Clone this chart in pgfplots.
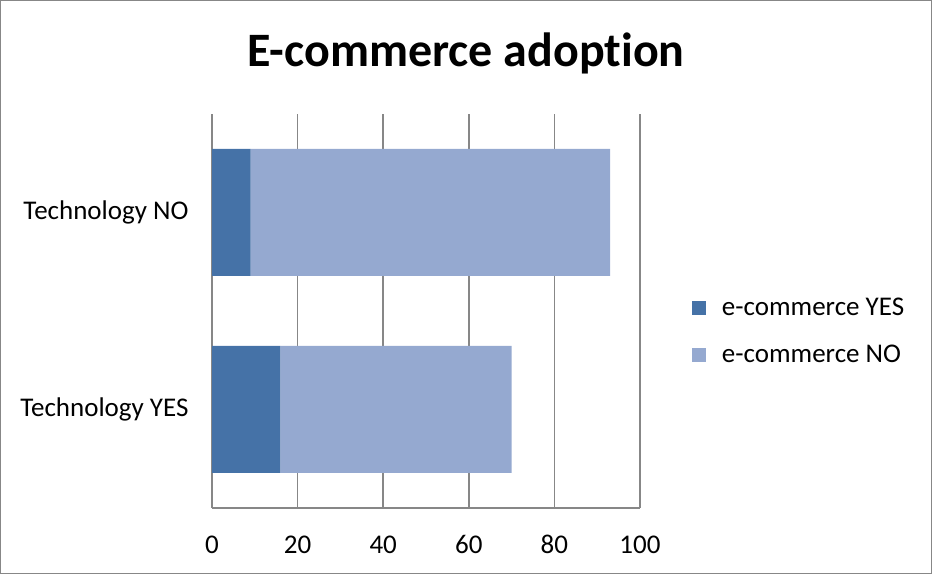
\documentclass[border=0pt]{standalone}
\usepackage{pgfplots}
\pgfplotsset{compat=1.18}
\usepackage{fontspec}
\setmainfont{Carlito}[Ligatures=NoCommon]
\definecolor{darkb}{HTML}{4572A7}
\definecolor{lightb}{HTML}{95A9D0}
\definecolor{gridc}{HTML}{878787}
\begin{document}
\begin{tikzpicture}[x=1bp,y=1bp]
\useasboundingbox (0,0) rectangle (932,574);
\draw[gridc,line width=1.2bp] (0.6,0.6) rectangle (931.4,573.4);
\node[font=\fontsize{48bp}{50bp}\selectfont\bfseries] at (466,521) {E-commerce adoption};
\begin{axis}[
  at={(212bp,66bp)}, anchor=south west,
  scale only axis, width=428bp, height=394bp,
  xbar stacked,
  bar width=127bp,
  xmin=0, xmax=100,
  ymin=-0.5, ymax=1.5,
  ytick={0,1},
  yticklabels={Technology YES, Technology NO},
  xtick={0,20,40,60,80,100},
  axis x line*=bottom, axis y line*=left,
  axis line style={gridc, line width=1.6bp, -},
  xmajorgrids, major grid style={gridc, line width=1.6bp},
  major tick length=0pt,
  tick style={draw=none},
  ticklabel style={font=\fontsize{27bp}{30bp}\selectfont},
  xticklabel style={yshift=-24bp},
  yticklabel style={xshift=-20bp},
  /pgf/number format/assume math mode=true,
  legend style={draw=none, at={(rel axis cs:1.121,0.449)}, anchor=west,
    font=\fontsize{27bp}{30bp}\selectfont, row sep=24bp, inner sep=0pt,
    legend cell align=left},
  legend image code/.code={\fill[#1] (0bp,-7bp) rectangle (14bp,7bp); \path (28bp,0bp);},
]
\addplot[fill=darkb, draw=none] coordinates {(16,0) (9,1)};
\addplot[fill=lightb, draw=none] coordinates {(54,0) (84,1)};
\legend{e-commerce YES, e-commerce NO}
\end{axis}
\end{tikzpicture}
\end{document}
